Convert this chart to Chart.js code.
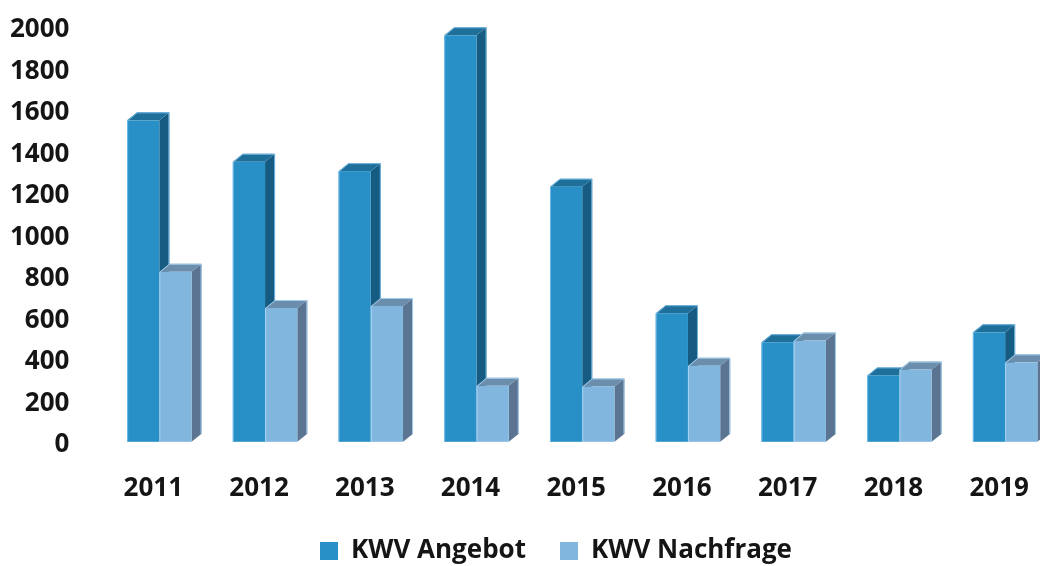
<!DOCTYPE html>
<html>
<head>
<meta charset="utf-8">
<script src="https://cdn.jsdelivr.net/npm/chart.js@4.4.1/dist/chart.umd.min.js"></script>
<style>
    html, body { margin: 0; padding: 0; background: #fff; overflow: hidden; }
    #wrap { position: relative; width: 1156px; height: 574px; }
</style>
</head>
<body>
<div id="wrap"><canvas id="kwvChart"></canvas></div>
<script>
// Data
const years = ['2011', '2012', '2013', '2014', '2015', '2016', '2017', '2018', '2019'];
const angebot = [1550, 1350, 1305, 1960, 1230, 620, 480, 320, 528];
const nachfrage = [820, 645, 655, 270, 267, 367, 488, 348, 383];
const yMin = 0;
const yMax = 2000;
const yStep = 200;

// Faces of the pseudo-3D columns: front, top, side
const faces = [
    { front: '#2890c6', top: '#1f6f9b', side: '#165b81', edge: 'rgba(120,190,235,0.9)' },
    { front: '#81b6de', top: '#6a8eac', side: '#5a7491', edge: 'rgba(170,215,245,0.9)' }
];
const depthX = 10;
const depthY = 8;

// Draw each column as a box, category by category so the second series sits in front
const bars3d = {
    id: 'bars3d',
    beforeDatasetsDraw(chart) {
        const ctx = chart.ctx;
        ctx.save();
        ctx.lineWidth = 1;
        for (let i = 0; i < chart.data.labels.length; i++) {
            chart.data.datasets.forEach((ds, d) => {
                const bar = chart.getDatasetMeta(d).data[i];
                const p = bar.getProps(['x', 'y', 'base', 'width'], true);
                const l = p.x - p.width / 2, r = p.x + p.width / 2, t = p.y, b = p.base;
                const c = faces[d];

                ctx.fillStyle = c.side;
                ctx.beginPath();
                ctx.moveTo(r, t);
                ctx.lineTo(r + depthX, t - depthY);
                ctx.lineTo(r + depthX, b - depthY);
                ctx.lineTo(r, b);
                ctx.closePath();
                ctx.fill();

                ctx.fillStyle = c.top;
                ctx.beginPath();
                ctx.moveTo(l, t);
                ctx.lineTo(l + depthX, t - depthY);
                ctx.lineTo(r + depthX, t - depthY);
                ctx.lineTo(r, t);
                ctx.closePath();
                ctx.fill();

                ctx.fillStyle = c.front;
                ctx.fillRect(l, t, r - l, b - t);

                ctx.strokeStyle = c.edge;
                ctx.beginPath();
                ctx.moveTo(l + 0.5, b);
                ctx.lineTo(l + 0.5, t + 0.5);
                ctx.lineTo(l + depthX, t - depthY + 0.5);
                ctx.lineTo(r + depthX - 0.5, t - depthY + 0.5);
                ctx.lineTo(r + depthX - 0.5, b - depthY);
                ctx.stroke();
            });
        }
        ctx.restore();
        return false;
    }
};

Chart.defaults.font.family = "'Open Sans', 'Liberation Sans', sans-serif";
Chart.defaults.font.weight = 'bold';
Chart.defaults.color = '#151515';

new Chart(document.getElementById('kwvChart').getContext('2d'), {
    type: 'bar',
    data: {
        labels: years,
        datasets: [
            { label: 'KWV Angebot', data: angebot, backgroundColor: faces[0].front },
            { label: 'KWV Nachfrage', data: nachfrage, backgroundColor: faces[1].front }
        ]
    },
    options: {
        responsive: true,
        maintainAspectRatio: false,
        animation: false,
        categoryPercentage: 0.61,
        barPercentage: 1,
        layout: { padding: { left: 10, right: 54, top: 27, bottom: 0 } },
        plugins: {
            tooltip: { enabled: false },
            legend: {
                position: 'bottom',
                labels: {
                    font: { size: 26, weight: 'bold' },
                    boxWidth: 18,
                    boxHeight: 18,
                    padding: 34
                }
            }
        },
        scales: {
            y: {
                min: yMin,
                max: yMax,
                ticks: {
                    stepSize: yStep,
                    padding: 0,
                    labelOffset: 3,
                    font: { size: 26, weight: 'bold' },
                    callback: v => String(v)
                },
                grid: { display: false, tickLength: 37 },
                border: { display: false }
            },
            // empty spacer on the right so the plot ends before the legend's centre line
            spacer: {
                type: 'linear',
                position: 'right',
                ticks: { display: false },
                grid: { display: false },
                border: { display: false },
                afterFit: scale => { scale.width = 44; }
            },
            x: {
                ticks: { padding: 0, labelOffset: -6, font: { size: 26, weight: 'bold' } },
                grid: { display: false, tickLength: 31 },
                border: { display: false }
            }
        }
    },
    plugins: [bars3d]
});
</script>
</body>
</html>
